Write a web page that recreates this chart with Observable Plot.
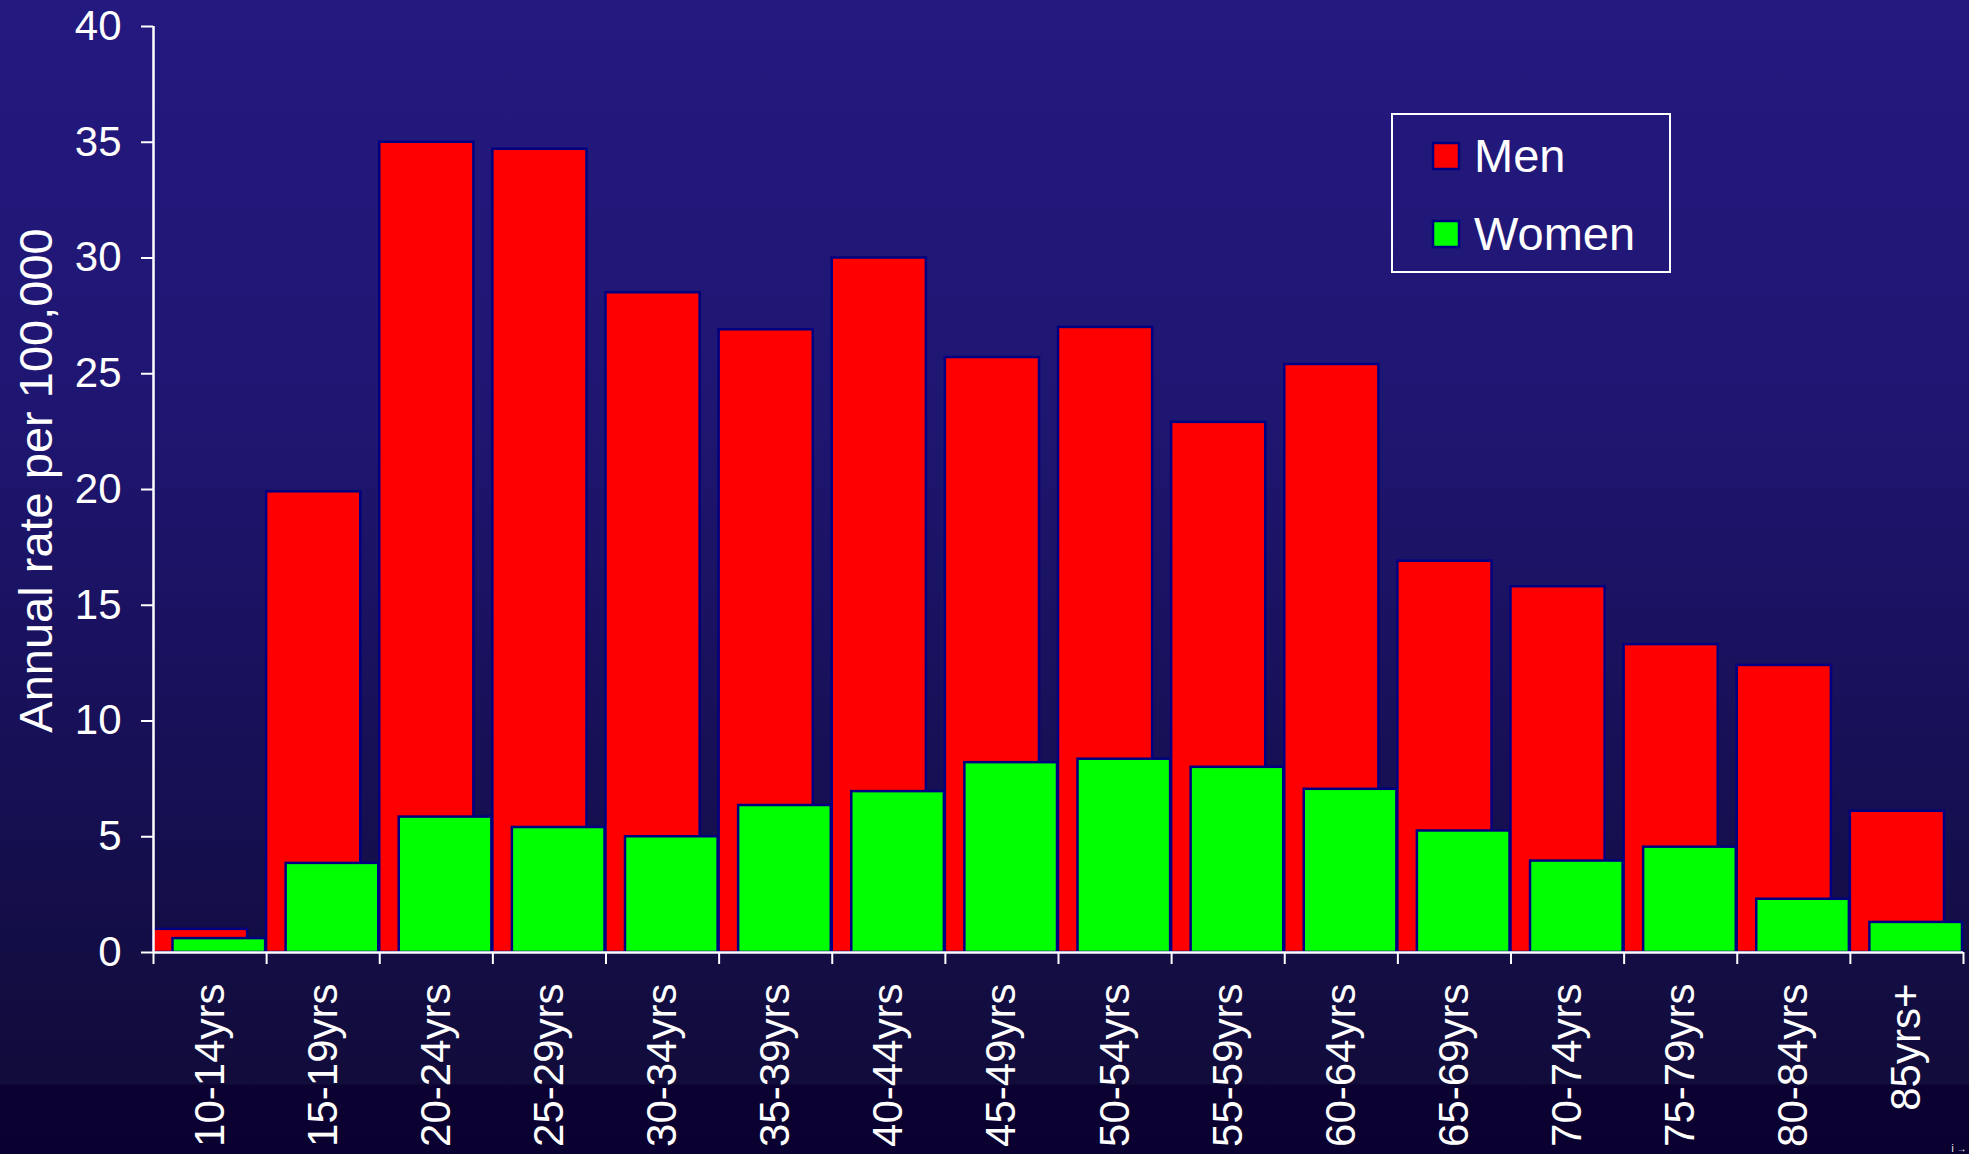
<!DOCTYPE html>
<html>
<head>
<meta charset="utf-8">
<script src="https://cdn.jsdelivr.net/npm/d3@7"></script>
<script src="https://cdn.jsdelivr.net/npm/@observablehq/plot@0.6"></script>
<style>
html, body { margin: 0; padding: 0; width: 1969px; height: 1154px; overflow: hidden; }
body {
  background: linear-gradient(to bottom, #24197f 0px, #1f1672 400px, #160f52 800px, #110c3a 1084px, #0c0232 1085px, #0b0130 1154px);
  font-family: "Liberation Sans", Arial, sans-serif;
}
#wrap { position: relative; width: 1969px; height: 1154px; }
#wrap > svg { position: absolute; left: 0; top: 0; }
#legend { position: absolute; left: 0; top: 0; pointer-events: none; }
</style>
</head>
<body>
<div id="wrap"></div>
<script>
const ageGroups = ["10-14yrs","15-19yrs","20-24yrs","25-29yrs","30-34yrs","35-39yrs","40-44yrs","45-49yrs","50-54yrs","55-59yrs","60-64yrs","65-69yrs","70-74yrs","75-79yrs","80-84yrs","85yrs+"];
const menRates = [1.0, 19.9, 35.0, 34.7, 28.5, 26.9, 30.0, 25.7, 27.0, 22.9, 25.4, 16.9, 15.8, 13.3, 12.4, 6.1];
const womenRates = [0.6, 3.85, 5.85, 5.4, 5.0, 6.35, 6.95, 8.2, 8.35, 8.0, 7.05, 5.25, 3.95, 4.55, 2.3, 1.3];
const yTicks = [0, 5, 10, 15, 20, 25, 30, 35, 40];
const yLabel = "Annual rate per 100,000";
const seriesNames = ["Men", "Women"];
const seriesColors = ["#ff0000", "#00ff00"];

const rows = ageGroups.map((g, i) => ({i, g, men: menRates[i], women: womenRates[i]}));
const edges = d3.range(ageGroups.length + 1);

const chart = Plot.plot({
  width: 1969,
  height: 1154,
  marginLeft: 153,
  marginRight: 6,
  marginTop: 26,
  marginBottom: 202,
  style: {background: "transparent", color: "#fff", fontFamily: "'Liberation Sans', Arial, sans-serif", overflow: "visible"},
  x: {type: "linear", domain: [0, ageGroups.length]},
  y: {domain: [0, 40]},
  marks: [
    Plot.rectY(rows, {x1: "i", x2: d => d.i + 1, y: "men", fill: seriesColors[0], stroke: "#000080", strokeWidth: 2.5, insetRight: 19}),
    Plot.rectY(rows, {x1: "i", x2: d => d.i + 1, y: "women", fill: seriesColors[1], stroke: "#000080", strokeWidth: 2.5, insetLeft: 19.5, insetRight: 1}),
    Plot.ruleX([0], {stroke: "#fff", strokeWidth: 2.5}),
    Plot.ruleY([0], {stroke: "#fff", strokeWidth: 2.5}),
    Plot.axisY({ticks: yTicks, tickSize: 12, tickPadding: 20, fontSize: 42, stroke: "#fff", strokeWidth: 2, fill: "#fff", tickFormat: d => String(d)}),
    Plot.axisX({ticks: edges, tickSize: 12, stroke: "#fff", strokeWidth: 2, tickFormat: () => ""}),
    Plot.text(rows, {x: d => d.i + 0.5, y: 0, text: "g", rotate: -90, textAnchor: "end", dy: 31, fontSize: 42, fill: "#fff"}),
    Plot.text([yLabel], {frameAnchor: "left", textAnchor: "middle", dx: -117, dy: -9, rotate: -90, fontSize: 47, fill: "#fff"})
  ]
});
document.getElementById("wrap").appendChild(chart);

// Legend
const lg = d3.select("#wrap").append("svg").attr("id", "legend").attr("width", 1969).attr("height", 1154);
lg.append("rect").attr("x", 1392).attr("y", 114).attr("width", 278).attr("height", 158)
  .attr("fill", "none").attr("stroke", "#fff").attr("stroke-width", 2);
seriesNames.forEach((name, k) => {
  const y0 = 143 + k * 78;
  lg.append("rect").attr("x", 1433).attr("y", y0).attr("width", 26).attr("height", 26)
    .attr("fill", seriesColors[k]).attr("stroke", "#000080").attr("stroke-width", 2.5);
  lg.append("text").attr("x", 1474).attr("y", y0 + 29).attr("fill", "#fff")
    .attr("font-size", 47).attr("font-family", "'Liberation Sans', Arial, sans-serif").text(name);
});
</script>
</body>
</html>
